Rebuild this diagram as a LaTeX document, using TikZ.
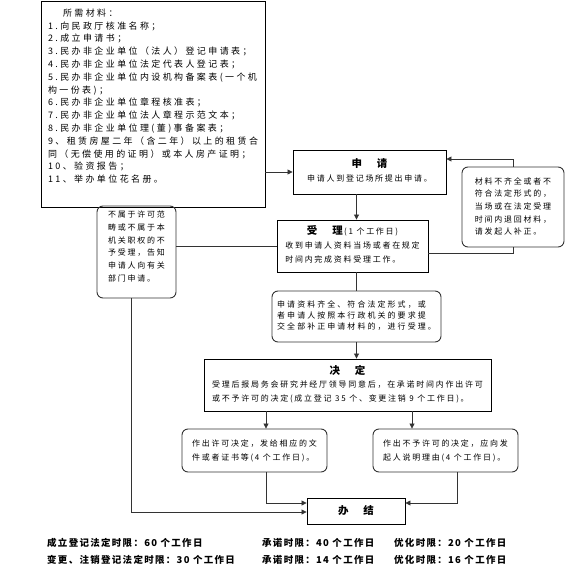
\documentclass[tikz,border=0pt]{standalone}
\usepackage{fontspec}
\setmainfont{Noto Sans CJK SC}
\newfontfamily\boxfont[LetterSpace=22]{Noto Sans CJK SC}
\newfontfamily\midfont[LetterSpace=26]{Noto Sans CJK SC}
\newfontfamily\matfont[LetterSpace=27]{Noto Sans CJK SC}
\newfontfamily\notefont[LetterSpace=14]{Noto Sans CJK SC}
\newfontfamily\ttlfont{Noto Sans CJK SC}
\usetikzlibrary{arrows.meta}
\newcommand\ttl[2]{{\ttlfont\bfseries\fontsize{10.5}{12}\selectfont #1\hspace{15bp}#2}}
\tikzset{
  sbox/.style={draw=black, line width=0.9bp, inner sep=0pt},
  rbox/.style={draw=black!80, line width=0.9bp, rounded corners=6bp, inner sep=0pt},
  conn/.style={draw=black!80, line width=0.8bp},
  arr/.style={conn, -{Triangle[length=5bp,width=5bp]}},
  note/.style={anchor=west, inner sep=0pt, font=\notefont\bfseries\fontsize{9.5}{11}\selectfont},
}
\begin{document}
\begin{tikzpicture}[x=1bp,y=-1bp]
\useasboundingbox (0,0) rectangle (579,587);
\coordinate (colx) at (356.5,0);
\coordinate (xl) at (266,0);
\coordinate (xr) at (412,0);
\coordinate (xr2) at (457,0);
\coordinate (xrej) at (131,0);
\coordinate (ytop) at (0,159);
\coordinate (ybot) at (0,253);
\coordinate (r1) at (0,503);
\coordinate (r2) at (0,512);

\node[sbox, minimum width=224bp, minimum height=206bp, font=\matfont\fontsize{9}{12.85}\selectfont] (mat) at (153,104) {\begin{tabular}{@{}l@{}}
\hspace*{15bp}所需材料：\\
1.向民政厅核准名称；\\
2.成立申请书；\\
3.民办非企业单位（法人）登记申请表；\\
4.民办非企业单位法定代表人登记表；\\
5.民办非企业单位内设机构备案表(一个机\\
构一份表)；\\
6.民办非企业单位章程核准表；\\
7.民办非企业单位法人章程示范文本；\\
8.民办非企业单位理(董)事备案表；\\
9、租赁房屋二年（含二年）以上的租赁合\\
同（无偿使用的证明）或本人房产证明；\\
10、验资报告；\\
11、举办单位花名册。\\[14bp]
\end{tabular}};

\node[sbox, minimum width=153bp, minimum height=44bp, font=\boxfont\fontsize{8}{14}\selectfont] (apply) at (369.5,172) {\begin{tabular}{@{}c@{}}
\ttl{申}{请}\\
申请人到登记场所提出申请。
\end{tabular}};

\node[sbox, minimum width=151bp, minimum height=52bp, font=\boxfont\fontsize{8}{14}\selectfont] (accept) at (352.5,246) {\begin{tabular}{@{}l@{}}
\multicolumn{1}{@{}c@{}}{\ttl{受}{理}\,(1 个工作日)}\\
收到申请人资料当场或者在规定\\
时间内完成资料受理工作。
\end{tabular}};

\node[rbox, minimum width=102bp, minimum height=80bp, font=\boxfont\fontsize{8}{12.75}\selectfont] (fix) at (513,207) {\begin{tabular}{@{}l@{}}
材料不齐全或者不\\
符合法定形式的，\\
当场或在法定受理\\
时间内退回材料，\\
请发起人补正。
\end{tabular}};

\node[rbox, minimum width=79bp, minimum height=92bp, font=\boxfont\fontsize{8}{12.8}\selectfont] (rej) at (136.5,252) {\begin{tabular}{@{}l@{}}
不属于许可范\\
畴或不属于本\\
机关职权的不\\
予受理，告知\\
申请人向有关\\
部门申请。\\[10bp]
\end{tabular}};

\node[rbox, minimum width=169bp, minimum height=51bp, font=\midfont\fontsize{8}{10.8}\selectfont] (mid) at (356.5,316.5) {\begin{tabular}{@{}l@{}}
申请资料齐全、符合法定形式，或\\
者申请人按照本行政机关的要求提\\
交全部补正申请材料的，进行受理。
\end{tabular}};

\node[sbox, minimum width=287bp, minimum height=52bp, font=\boxfont\fontsize{8}{13.5}\selectfont] (decide) at (347.5,385) {\begin{tabular}{@{}l@{}}
\multicolumn{1}{@{}c@{}}{\ttl{决}{定}}\\
受理后报局务会研究并经厅领导同意后，在承诺时间内作出许可\\
或不予许可的决定(成立登记 35 个、变更注销 9 个工作日)。
\end{tabular}};

\node[rbox, minimum width=145bp, minimum height=43bp, font=\boxfont\fontsize{8}{14}\selectfont] (yes) at (254.5,450.5) {\begin{tabular}{@{}l@{}}
作出许可决定，发给相应的文\\
件或者证书等(4 个工作日)。
\end{tabular}};

\node[rbox, minimum width=145bp, minimum height=43bp, font=\boxfont\fontsize{8}{14}\selectfont] (no) at (445.5,450.5) {\begin{tabular}{@{}l@{}}
作出不予许可的决定，应向发\\
起人说明理由(4 个工作日)。
\end{tabular}};

\node[sbox, minimum width=98bp, minimum height=26bp] (done) at (356,511) {\ttl{办}{结}};

\node[note] (n1) at (47,543) {成立登记法定时限：60 个工作日};
\node[note] (n2) at (262,543) {承诺时限：40 个工作日};
\node[note] (n3) at (394,543) {优化时限：20 个工作日};
\node[note] (n4) at (47,560) {变更、注销登记法定时限：30 个工作日};
\node[note] (n5) at (262,560) {承诺时限：14 个工作日};
\node[note] (n6) at (394,560) {优化时限：16 个工作日};

\draw[arr] (mat.east |- apply.west) -- (apply.west);
\draw[arr] (apply.south -| colx) -- (accept.north -| colx);
\draw[conn] (accept.south -| colx) -- (mid.north -| colx);
\draw[arr] (mid.south -| colx) -- (decide.north -| colx);
\draw[conn] (accept.west) -- (accept.west -| rej.east);
\draw[arr] (fix.north) |- (apply.east |- ytop);
\draw[conn] (fix.south) |- (accept.east |- ybot);
\draw[arr] (decide.south -| xl) -- (yes.north -| xl);
\draw[arr] (decide.south -| xr) -- (no.north -| xr);
\draw[arr] (yes.south -| xl) |- (done.west |- r1);
\draw[arr] (no.south -| xr2) |- (done.east |- r1);
\draw[arr] (rej.south -| xrej) |- (done.west |- r2);
\end{tikzpicture}
\end{document}
